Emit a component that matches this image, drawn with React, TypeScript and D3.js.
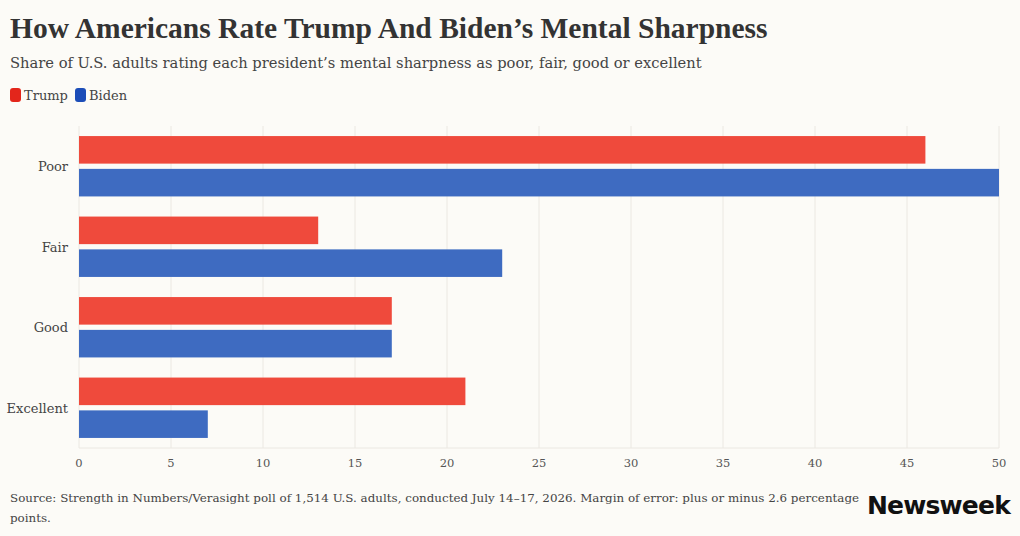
import React from 'react';
import * as d3 from 'd3';

const categories = ['Poor', 'Fair', 'Good', 'Excellent'];
const seriesNames = ['Trump', 'Biden'];
const trumpValues = [46, 13, 17, 21];
const bidenValues = [50, 23, 17, 7];
const xTicks = [0, 5, 10, 15, 20, 25, 30, 35, 40, 45, 50];

const barColors: Record<string, string> = { Trump: '#ef4a3c', Biden: '#3e6bc1' };
const legendColors: Record<string, string> = { Trump: '#e3261b', Biden: '#1c4db8' };

const width = 1020;
const height = 536;
const serif = '"Liberation Serif", serif';
const bodySerif = '"DejaVu Serif", serif';

const App = () => {
  const x = d3.scaleLinear().domain([0, 50]).range([79, 999]);
  const y = d3.scaleBand<string>()
    .domain(categories)
    .range([126, 448])
    .paddingInner(0.25)
    .paddingOuter(0.125);
  const sub = d3.scaleBand<string>()
    .domain(seriesNames)
    .range([0, y.bandwidth()])
    .paddingInner(0.16);

  const rows = categories.map((c, i) => ({
    category: c,
    values: [
      { name: 'Trump', value: trumpValues[i] },
      { name: 'Biden', value: bidenValues[i] },
    ],
  }));

  return (
    <svg width={width} height={height} style={{ position: 'absolute', left: 0, top: 0, background: '#fcfbf7' }}>
      <rect width={width} height={height} fill="#fcfbf7" />
      {/* title block */}
      <text x={10} y={38} fontFamily={serif} fontWeight={700} fontSize={29.5} fill="#333">
        How Americans Rate Trump And Biden’s Mental Sharpness
      </text>
      <text x={10} y={68} fontFamily={bodySerif} fontSize={14.7} fill="#444">
        Share of U.S. adults rating each president’s mental sharpness as poor, fair, good or excellent
      </text>

      {/* legend */}
      {seriesNames.map((s, i) => {
        const lx = i === 0 ? 10 : 75;
        return (
          <g key={s}>
            <rect x={lx} y={88} width={11} height={14} rx={3} fill={legendColors[s]} />
            <text x={lx + 14} y={100} fontFamily={bodySerif} fontSize={13} fill="#444">{s}</text>
          </g>
        );
      })}

      {/* grid */}
      {xTicks.map(t => (
        <line key={t} x1={x(t)} x2={x(t)} y1={126} y2={448} stroke="#ebe8e2" strokeWidth={1} />
      ))}
      <line x1={79} x2={999} y1={448} y2={448} stroke="#ebe8e2" />

      {/* bars */}
      {rows.map(r => (
        <g key={r.category} transform={`translate(0,${y(r.category)})`}>
          {r.values.map(v => (
            <rect
              key={v.name}
              x={x(0)}
              y={sub(v.name)}
              width={x(v.value) - x(0)}
              height={sub.bandwidth()}
              fill={barColors[v.name]}
            />
          ))}
          <text
            x={68}
            y={y.bandwidth() / 2 + 5}
            textAnchor="end"
            fontFamily={bodySerif}
            fontSize={13}
            fill="#444"
          >
            {r.category}
          </text>
        </g>
      ))}

      {/* x axis labels */}
      {xTicks.map(t => (
        <text key={t} x={x(t)} y={467} textAnchor="middle" fontFamily={bodySerif} fontSize={11.5} fill="#555">
          {t}
        </text>
      ))}

      {/* footer */}
      <text x={10} y={502} fontFamily={bodySerif} fontSize={11.9} fill="#444">
        Source: Strength in Numbers/Verasight poll of 1,514 U.S. adults, conducted July 14–17, 2026. Margin of error: plus or minus 2.6 percentage
      </text>
      <text x={10} y={522} fontFamily={bodySerif} fontSize={11.9} fill="#444">points.</text>
      <text
        x={1010}
        y={514}
        textAnchor="end"
        fontFamily='"DejaVu Sans", "Liberation Sans", sans-serif'
        fontWeight={900}
        fontSize={25}
        letterSpacing={-0.8}
        fill="#111"
      >
        Newsweek
      </text>
    </svg>
  );
};

export default App;
